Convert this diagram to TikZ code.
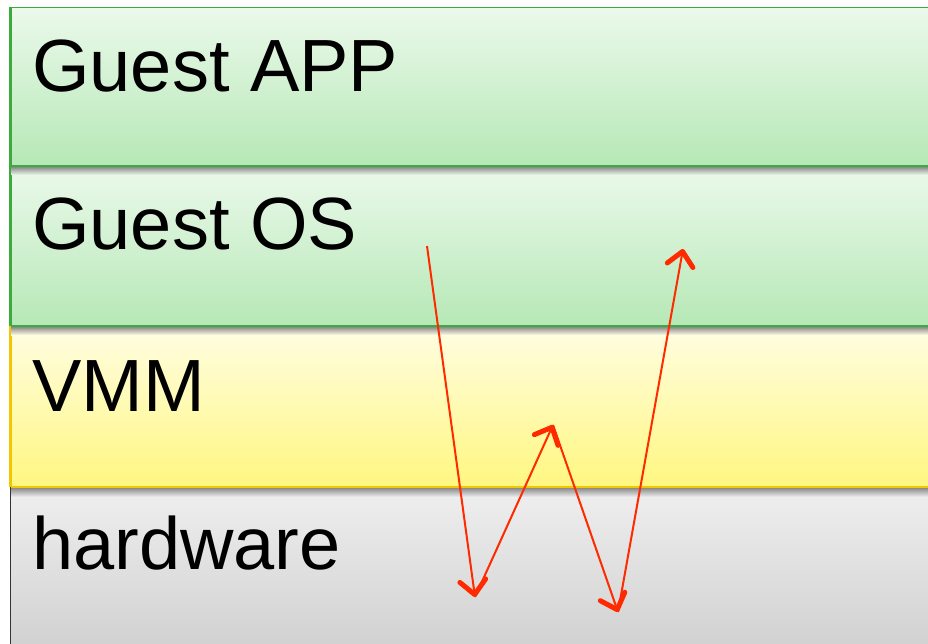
\documentclass[tikz,border=0pt]{standalone}
\usepackage{fontspec}
\setmainfont{Liberation Sans}
\usetikzlibrary{arrows.meta}
\definecolor{gtop}{HTML}{EBF9EB}
\definecolor{gbot}{HTML}{B6E8B6}
\definecolor{gline}{HTML}{3DAA3D}
\definecolor{ytop}{HTML}{FFFDE2}
\definecolor{ybot}{HTML}{FFF780}
\definecolor{yline}{HTML}{F2C600}
\definecolor{htop}{HTML}{EFEFEF}
\definecolor{hbot}{HTML}{CFCFCF}
\definecolor{hline}{HTML}{333333}
\definecolor{arrred}{HTML}{FF2A00}
\tikzset{
  layer/.style={rectangle, minimum width=940pt, anchor=north west, inner sep=0pt, line width=1.5pt},
  lbl/.style={anchor=base west, inner sep=0pt, font=\fontsize{74}{74}\selectfont},
  shadowband/.style={top color=black!45, bottom color=#1},
  redarrow/.style={draw=arrred, line width=2pt, -{Straight Barb[length=14pt,width=26pt,line width=5pt 0,round]}}
}
\begin{document}
\begin{tikzpicture}[x=1pt,y=-1pt]
\useasboundingbox (0,0) rectangle (928,644);
\clip (0,0) rectangle (928,644);
\fill[white] (0,0) rectangle (928,644);
\node[layer, minimum height=159pt, top color=gtop, bottom color=gbot, draw=gline] (app) at (10,7) {};
\node[layer, minimum height=160pt, top color=gtop, bottom color=gbot, draw=gline] (os) at (10,166) {};
\node[layer, minimum height=161pt, top color=ytop, bottom color=ybot, draw=yline] (vmm) at (10,326) {};
\node[layer, minimum height=170pt, top color=htop, bottom color=hbot, draw=hline, line width=1pt] (hw) at (10,487) {};
% shadows under dividers
\shade[shadowband=gtop] (11,167) rectangle (940,175);
\shade[shadowband=ytop] (11,327) rectangle (940,335);
\shade[shadowband=htop] (11,488) rectangle (940,497);
\draw[gline, line width=1.5pt] (10,166) -- (940,166);
\draw[gline, line width=1.5pt] (10,326) -- (940,326);
\draw[yline, line width=1.5pt] (10,487) -- (940,487);
\draw[gline, line width=1.5pt] (10,7) -- (10,326);
\draw[yline, line width=1.5pt] (10,326) -- (10,487);
\draw[hline, line width=1pt] (10,487) -- (10,650);
\node[lbl] (tapp) at (32,92) {Guest APP};
\node[lbl] (tos) at (32,249) {Guest OS};
\node[lbl] (tvmm) at (32,411) {VMM};
\node[lbl] (thw) at (32,569) {hardware};
\coordinate (p0) at (427,246);
\coordinate (p1) at (475,597);
\coordinate (p2) at (553,425);
\coordinate (p3) at (618,612);
\coordinate (p4) at (683,249);
\draw[redarrow] (p0) -- (p1);
\draw[redarrow] (p1) -- (p2);
\draw[redarrow] (p2) -- (p3);
\draw[redarrow] (p3) -- (p4);
\end{tikzpicture}
\end{document}
